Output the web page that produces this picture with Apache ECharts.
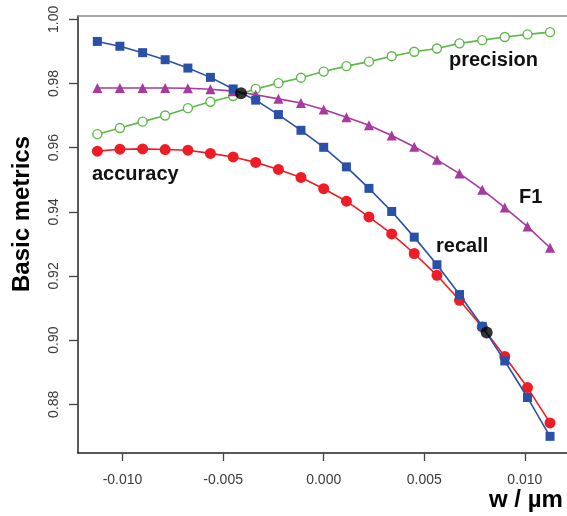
<!DOCTYPE html>
<html>
<head>
<meta charset="utf-8">
<script src="https://cdn.jsdelivr.net/npm/echarts@6/dist/echarts.min.js"></script>
<style>html,body{margin:0;padding:0;background:#fff;}#c{width:567px;height:516px;}</style>
</head>
<body>
<div id="c"></div>
<script>
// w / µm
const wValues = [-0.01125, -0.01013, -0.00900, -0.00788, -0.00675, -0.00563, -0.00450, -0.00338, -0.00225, -0.00113, 0.00000,
                 0.00113, 0.00225, 0.00338, 0.00450, 0.00563, 0.00675, 0.00788, 0.00900, 0.01013, 0.01125];
const recall    = [0.9931, 0.9916, 0.9896, 0.9874, 0.9848, 0.9819, 0.9783, 0.9748, 0.9703, 0.9654, 0.9601,
                   0.9540, 0.9473, 0.9401, 0.9321, 0.9235, 0.9142, 0.9043, 0.8935, 0.8821, 0.8700];
const accuracy  = [0.9589, 0.9595, 0.9596, 0.9594, 0.9592, 0.9582, 0.9571, 0.9554, 0.9532, 0.9507, 0.9472,
                   0.9433, 0.9384, 0.9331, 0.9270, 0.9202, 0.9124, 0.9041, 0.8949, 0.8852, 0.8742];
const precision = [0.9642, 0.9661, 0.9681, 0.9700, 0.9723, 0.9743, 0.9761, 0.9783, 0.9801, 0.9818, 0.9837,
                   0.9854, 0.9868, 0.9885, 0.9899, 0.9909, 0.9925, 0.9935, 0.9945, 0.9953, 0.9960];
const f1        = [0.9786, 0.9786, 0.9786, 0.9786, 0.9785, 0.9782, 0.9776, 0.9765, 0.9752, 0.9739, 0.9719,
                   0.9695, 0.9670, 0.9638, 0.9603, 0.9562, 0.9519, 0.9469, 0.9413, 0.9354, 0.9288];
// crossing points (black dots)
const crossW = [-0.00411, 0.00810];
const crossV = [0.97693, 0.90234];
// tick labels
const xTicks = [-0.010, -0.005, 0.000, 0.005, 0.010];
const yTicks = [0.88, 0.90, 0.92, 0.94, 0.96, 0.98, 1.00];

const pairs = ys => wValues.map((w, i) => [w, ys[i]]);
const FONT = '"Liberation Sans", Arial, sans-serif';

const chart = echarts.init(document.getElementById('c'), null, {renderer: 'canvas'});
const xMin = -0.012212, xMax = 0.012093, yMin = 0.86481, yMax = 1.00103;

chart.setOption({
  animation: false,
  backgroundColor: '#ffffff',
  grid: {left: 78, right: 0, top: 16, bottom: 63},
  xAxis: [{
    type: 'value', min: xMin, max: xMax,
    axisLine: {show: true, onZero: false, lineStyle: {color: '#222', width: 1.5}},
    axisTick: {show: true, length: 8, customValues: xTicks, lineStyle: {color: '#444', width: 1.3}},
    axisLabel: {show: true, customValues: xTicks, margin: 20, color: '#3a3a3a', fontSize: 14, fontFamily: FONT,
                formatter: v => v.toFixed(3)},
    splitLine: {show: false}
  }, {
    type: 'value', min: xMin, max: xMax, position: 'top',
    axisLine: {show: true, onZero: false, lineStyle: {color: '#888', width: 1.5}},
    axisTick: {show: false}, axisLabel: {show: false}, splitLine: {show: false}
  }],
  yAxis: {
    type: 'value', min: yMin, max: yMax, position: 'left',
    axisLine: {show: true, onZero: false, lineStyle: {color: '#222', width: 1.5}},
    axisTick: {show: true, length: 9, customValues: yTicks, lineStyle: {color: '#444', width: 1.3}},
    axisLabel: {show: true, customValues: yTicks, rotate: 90, margin: 17, color: '#3a3a3a', fontSize: 14, fontFamily: FONT,
                formatter: v => v.toFixed(2)},
    splitLine: {show: false}
  },
  series: [
    {name: 'precision', type: 'line', data: pairs(precision), symbol: 'circle', symbolSize: 9, showAllSymbol: true,
     lineStyle: {color: '#5cb947', width: 1.6}, itemStyle: {color: '#ffffff', borderColor: '#5cb947', borderWidth: 1.4}, z: 2},
    {name: 'F1', type: 'line', data: pairs(f1), symbol: 'triangle', symbolSize: 10, showAllSymbol: true,
     lineStyle: {color: '#a8399e', width: 1.6}, itemStyle: {color: '#a8399e'}, z: 3},
    {name: 'recall', type: 'line', data: pairs(recall), symbol: 'rect', symbolSize: 9, showAllSymbol: true,
     lineStyle: {color: '#2a51a8', width: 1.6}, itemStyle: {color: '#2a51a8'}, z: 4},
    {name: 'accuracy', type: 'line', data: pairs(accuracy), symbol: 'circle', symbolSize: 11, showAllSymbol: true,
     lineStyle: {color: '#ee1c25', width: 1.6}, itemStyle: {color: '#ee1c25'}, z: 3},
    {name: 'cross', type: 'scatter', data: crossW.map((w, i) => [w, crossV[i]]), symbol: 'circle', symbolSize: 12,
     itemStyle: {color: '#000000'}, z: 6}
  ],
  graphic: [
    {type: 'text', left: 449, top: 50, style: {text: 'precision', font: 'bold 20px ' + FONT, fill: '#111'}},
    {type: 'text', left: 92, top: 164, style: {text: 'accuracy', font: 'bold 20px ' + FONT, fill: '#111'}},
    {type: 'text', left: 436, top: 236, style: {text: 'recall', font: 'bold 20px ' + FONT, fill: '#111'}},
    {type: 'text', left: 519, top: 187, style: {text: 'F1', font: 'bold 20px ' + FONT, fill: '#111'}},
    {type: 'text', left: 489, top: 488, style: {text: 'w / µm', font: 'bold 24px ' + FONT, fill: '#000'}},
    {type: 'text', x: 22, y: 214, rotation: Math.PI / 2,
     style: {text: 'Basic metrics', font: 'bold 24px ' + FONT, fill: '#000', align: 'center', verticalAlign: 'middle'}}
  ]
});
</script>
</body>
</html>
